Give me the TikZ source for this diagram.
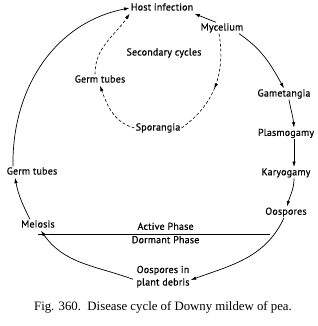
\documentclass[tikz,border=0pt]{standalone}
\usepackage{fontspec}
\setmainfont{Liberation Serif}
\newfontfamily\labelfont[FakeBold=0.5,LetterSpace=2]{PT Sans}
\usepackage{tikz}
\usetikzlibrary{arrows.meta,positioning,calc,decorations.markings}
\tikzstyle{lbl}=[inner sep=1pt,text height=7pt,text depth=2pt,font=\labelfont\fontsize{10}{12.5}\selectfont]
\tikzstyle{arrow}=[-{Latex[length=5.5pt,width=3.5pt]},line width=0.7pt]
\tikzstyle{darrow}=[-{Latex[length=5.5pt,width=3.5pt]},densely dashed,line width=0.6pt]
\tikzstyle{midarrow}=[densely dashed,line width=0.6pt,postaction={decorate},
                     decoration={markings,mark=at position 0.52 with {\arrow{Latex[length=5.5pt,width=3.5pt]}}}]

\begin{document}
\begin{tikzpicture}[x=1pt,y=1pt,node distance=28pt]
      \useasboundingbox (0,0) rectangle (317,326);
      % main cycle
      \node[lbl] (host) at (162,318) {Host infection};
      \node[lbl] (myc) at (222,298) {Mycelium};
      \node[lbl] (gamet) at (284,232) {Gametangia};
      \node[lbl,below=of gamet.south,anchor=north,xshift=2pt] (plasmo) {Plasmogamy};
      \node[lbl,below=of plasmo.south,anchor=north] (karyo) {Karyogamy};
      \node[lbl,below=of karyo.south,anchor=north] (oosp) {Oospores};
      \node[lbl,align=center] (debris) at (163,43) {Oospores in\\plant debris};
      \node[lbl] (meio) at (38,101) {Meiosis};
      \node[lbl] (germout) at (32,154) {Germ tubes};
      % secondary cycle
      \node[lbl] (sec) at (164,273) {Secondary cycles};
      \node[lbl] (germin) at (100,246) {Germ tubes};
      \node[lbl] (spor) at (158,198) {Sporangia};
      % phase line
      \coordinate (phl) at (38,92);
      \coordinate (phr) at (270,92);
      \coordinate (phm) at ($(phl)!0.55!(phr)$);
      \draw[line width=0.7pt] (phl) -- (phr);
      \node[lbl,above=1pt of phm] (active) {Active Phase};
      \node[lbl,below=1pt of phm] (dormant) {Dormant Phase};
      % connectors
      \draw[arrow] ([xshift=-19pt]germout.north) to[out=91,in=191] (host.west);
      \draw[arrow] ([xshift=-6pt]myc.north) -- (host.south east);
      \draw[arrow] ([xshift=17pt]myc.south) to[out=-34,in=119] (gamet.north);
      \draw[arrow] ([xshift=5pt]gamet.south) to[out=-80,in=95] ([xshift=8pt]plasmo.north);
      \draw[arrow] ([xshift=8pt]plasmo.south) -- ([xshift=8pt]karyo.north);
      \draw[arrow] ([xshift=8pt]karyo.south) to[out=-90,in=75] ([xshift=1pt]oosp.north);
      \draw[arrow] ([xshift=-2pt]oosp.south) to[out=-115,in=20] ([yshift=3pt]debris.east);
      \draw[arrow] ([xshift=-30pt,yshift=-2pt]debris.north) to[out=160,in=-55] ([xshift=3pt]meio.south);
      \draw[arrow] ([xshift=-8pt]meio.north) to[out=117,in=-79] ([xshift=-17pt]germout.south);
      \draw[midarrow] ([xshift=-3pt]myc.south) to[out=-80,in=35] (spor.east);
      \draw[darrow] (spor.west) to[out=165,in=-70] (germin.south);
      \draw[darrow] ([xshift=-5pt]germin.north) to[out=90,in=236] (host.south west);
      % caption
      \node[font=\fontsize{12.8}{14}\selectfont] (caption) at (163,19) {Fig. 360.\ \ Disease cycle of Downy mildew of pea.};
    \end{tikzpicture}
\end{document}
